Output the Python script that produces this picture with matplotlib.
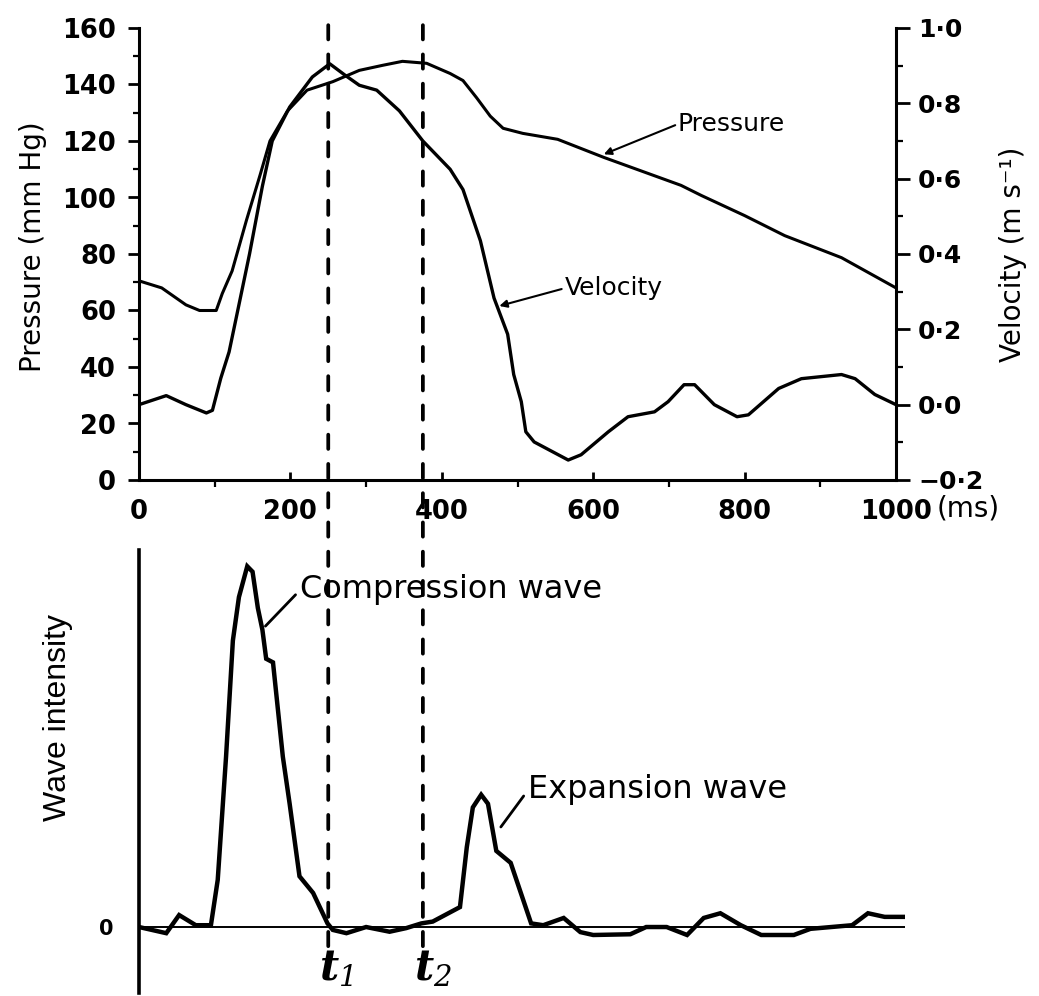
import matplotlib.pyplot as plt
from matplotlib.patches import ConnectionPatch
from matplotlib.ticker import MultipleLocator, FuncFormatter

plt.rcParams['font.family'] = ['DejaVu Sans']
plt.rcParams['mathtext.fontset'] = 'custom'
plt.rcParams['mathtext.it'] = 'DejaVu Serif:italic:bold'
plt.rcParams['mathtext.rm'] = 'DejaVu Serif:italic'

# pressure (mm Hg) vs time (ms)
p_t = [0, 30, 62, 80, 102, 110, 123, 142, 160, 173, 196, 222, 256, 291, 322, 348,
       380, 411, 428, 446, 464, 481, 507, 553, 614, 716, 743, 800, 853, 928, 1000]
p_val = [70.5, 68, 62, 60, 60, 66, 74, 92, 108, 120, 130.6, 138, 141, 145, 146.8, 148.2,
         147.5, 143.9, 141.4, 135.3, 128.8, 124.5, 122.7, 120.6, 114.2, 104.3, 100.7,
         93.6, 86.5, 78.7, 68]

# velocity (m/s) vs time (ms)
v_t = [0, 36, 62, 89, 97, 108, 119, 132, 146, 163, 176, 199, 229, 252, 272, 291, 314,
       344, 375, 411, 428, 451, 469, 487, 495, 505, 511, 522, 567, 584, 620, 646, 681,
       699, 720, 734, 760, 790, 805, 845, 875, 928, 946, 972, 1000]
v_val = [0.0, 0.024, 0.0, -0.022, -0.015, 0.07, 0.14, 0.265, 0.40, 0.58, 0.70, 0.79,
         0.87, 0.905, 0.875, 0.848, 0.835, 0.78, 0.70, 0.625, 0.571, 0.435, 0.283,
         0.187, 0.08, 0.008, -0.072, -0.099, -0.147, -0.133, -0.072, -0.032, -0.019,
         0.008, 0.053, 0.053, 0.0, -0.032, -0.027, 0.043, 0.069, 0.08, 0.069, 0.027, 0.0]

# wave intensity (arbitrary units) vs time (ms)
wi_t = [0, 36, 53, 75, 95, 104, 115, 124, 132, 143, 150, 157, 163, 168, 177, 190, 199,
        212, 230, 249, 256, 274, 300, 331, 353, 373, 388, 424, 433, 441, 452, 461, 472,
        491, 518, 534, 561, 583, 600, 649, 670, 697, 724, 746, 768, 795, 822, 865, 887,
        942, 963, 985, 1012]
wi_val = [0, -1.7, 3.3, 0.5, 0.5, 13, 47, 79, 91, 99.5, 98, 88, 82, 74, 73, 47, 34,
          14, 9.4, 1, -0.8, -1.7, 0, -1.3, -0.3, 1, 1.5, 5.5, 22, 33, 36.5, 34, 21,
          17.7, 1, 0.5, 2.5, -1.4, -2.2, -2, 0, 0, -2.2, 2.5, 3.8, 0.5, -2.2, -2.2,
          -0.5, 0.5, 3.8, 2.8, 2.8]

t_marks = [250, 375]
t_labels = [r'$t_1$', r'$t_2$']

W, H = 1039, 996
fig = plt.figure(figsize=(W / 100, H / 100), dpi=100)
ax1 = fig.add_axes([139 / W, 1 - 480 / H, (896 - 139) / W, (480 - 28) / H])
ax1v = ax1.twinx()
ax2 = fig.add_axes([139 / W, 1 - 993 / H, (905 - 139) / W, (993 - 550) / H])

# ---- top panel ----
ax1.plot(p_t, p_val, color='black', lw=2.2)
ax1v.plot(v_t, v_val, color='black', lw=2.4)
ax1.set_xlim(0, 1000)
ax1.set_ylim(0, 160)
ax1v.set_ylim(-0.2, 1.0)

for ax in (ax1, ax1v):
    ax.spines['top'].set_visible(False)
    for s in ax.spines.values():
        s.set_linewidth(2.2)
ax1.spines['right'].set_visible(False)
ax1v.spines['left'].set_visible(False)
ax1v.spines['bottom'].set_visible(False)

ax1.yaxis.set_major_locator(MultipleLocator(20))
ax1.yaxis.set_minor_locator(MultipleLocator(10))
ax1.xaxis.set_minor_locator(MultipleLocator(100))
ax1.tick_params(axis='y', which='major', direction='out', length=8, width=2,
                labelsize=18.5, pad=8.5)
ax1.tick_params(axis='y', which='minor', direction='out', length=4, width=1.6)
ax1.tick_params(axis='x', which='major', direction='in', length=6, width=2,
                labelsize=18.5, pad=13.5)
ax1.tick_params(axis='x', which='minor', direction='out', length=5, width=1.6)
for lab in ax1.get_yticklabels():
    lab.set_fontweight('bold')
ax1.set_xticks([0, 200, 400, 600, 800, 1000])
ax1.set_xticklabels(['0', '200', '400', '600', '800', '1000'], fontweight='bold')
ax1.annotate('(ms)', xy=(1000, 0), xytext=(29, -20.5), textcoords='offset points',
             fontsize=20, ha='left', va='center', annotation_clip=False)

ax1v.yaxis.set_major_locator(MultipleLocator(0.2))
ax1v.yaxis.set_minor_locator(MultipleLocator(0.1))
ax1v.yaxis.set_major_formatter(FuncFormatter(
    lambda v, pos: f'{v:.1f}'.replace('-', '\u2212').replace('.', '\u00b7')
    .replace('\u22120\u00b70', '0\u00b70')))
ax1v.tick_params(axis='y', which='major', direction='out', length=10, width=2,
                 labelsize=18, pad=6)
ax1v.tick_params(axis='y', which='minor', direction='out', length=5, width=1.6)
for lab in ax1v.get_yticklabels():
    lab.set_fontweight('bold')

ax1.set_ylabel('Pressure (mm Hg)', fontsize=20)
ax1.yaxis.set_label_coords(-0.122, 0.517)
ax1v.set_ylabel('Velocity (m s\u207b\u00b9)', fontsize=20)
ax1v.yaxis.set_label_coords(1.136, 0.50)

ax1.annotate('Pressure', xy=(614, 115.3), xytext=(712, 126), fontsize=18,
             ha='left', va='center',
             arrowprops=dict(arrowstyle='-|>', color='black', lw=1.5,
                             mutation_scale=11, shrinkA=0, shrinkB=0,
                             relpos=(0, 0.5)))
ax1v.annotate('Velocity', xy=(476, 0.262), xytext=(562, 0.309), fontsize=18,
              ha='left', va='center',
              arrowprops=dict(arrowstyle='-|>', color='black', lw=1.5,
                              mutation_scale=11, shrinkA=0, shrinkB=0,
                              relpos=(0, 0.5)))

# ---- bottom panel ----
ax2.plot(wi_t, wi_val, color='black', lw=3.2, solid_joinstyle='miter')
ax2.axhline(0, color='black', lw=1.4, zorder=1)
ax2.set_xlim(0, (905 - 139) / 0.757)
ax2.set_ylim(-18.2, 104)
for name in ('top', 'right', 'bottom'):
    ax2.spines[name].set_visible(False)
ax2.spines['left'].set_linewidth(2.6)
ax2.set_xticks([])
ax2.set_yticks([0])
ax2.set_yticklabels(['0'], fontsize=15, fontweight='bold')
ax2.tick_params(axis='y', length=0, pad=18)
ax2.set_ylabel('Wave intensity', fontsize=23, family=['Liberation Sans'])
ax2.yaxis.set_label_coords(-0.086, 0.623)

ax2.annotate('Compression wave', xy=(167, 83), xytext=(213, 93), fontsize=23,
             ha='left', va='center',
             arrowprops=dict(arrowstyle='-', color='black', lw=2,
                             shrinkA=2, shrinkB=0, relpos=(0, 0.5)))
ax2.annotate('Expansion wave', xy=(478, 27.6), xytext=(514, 37.8), fontsize=23,
             ha='left', va='center',
             arrowprops=dict(arrowstyle='-', color='black', lw=2,
                             shrinkA=2, shrinkB=0, relpos=(0, 0.5)))

for t, lab, dx in zip(t_marks, t_labels, [10, 13]):
    con = ConnectionPatch(xyA=(t, 161), coordsA=ax1.transData,
                          xyB=(t, -6), coordsB=ax2.transData,
                          linestyle=(0, (3.8, 4)), lw=2.7, color='black')
    fig.add_artist(con)
    ax2.text(t + dx, -11.5, lab, fontsize=30, ha='center', va='center')

fig.savefig('out.png', dpi=100)
